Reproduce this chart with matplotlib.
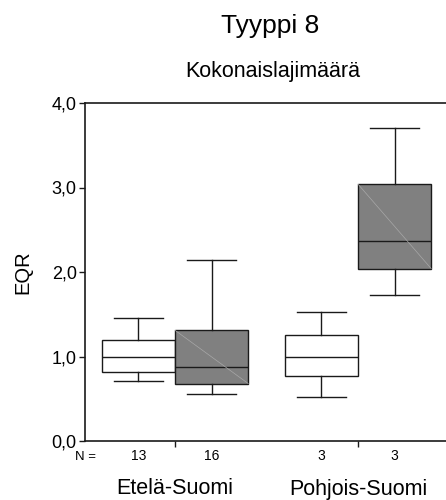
import matplotlib
matplotlib.use("Agg")
import matplotlib.pyplot as plt
import matplotlib.transforms as mtransforms

plt.rcParams['font.family'] = ['Liberation Sans', 'DejaVu Sans']

# box statistics (EQR)
groups = ['Etelä-Suomi', 'Pohjois-Suomi']
counts = [13, 16, 3, 3]
whislo = [0.71, 0.56, 0.52, 1.73]
q1 = [0.82, 0.68, 0.77, 2.04]
med = [1.00, 0.88, 1.00, 2.37]
q3 = [1.19, 1.31, 1.25, 3.04]
whishi = [1.45, 2.14, 1.53, 3.70]
fills = ['white', '#808080', 'white', '#808080']
yticks = [0.0, 1.0, 2.0, 3.0, 4.0]

group_pos = [1, 2]
width = 0.4
positions = [1 - width / 2, 1 + width / 2, 2 - width / 2, 2 + width / 2]

fig = plt.figure(figsize=(4.46, 5.0), dpi=100)
ax = fig.add_axes([0.1906, 0.118, 0.8094, 0.676])

stats = []
for i in range(4):
    stats.append(dict(whislo=whislo[i], q1=q1[i], med=med[i], q3=q3[i],
                      whishi=whishi[i], fliers=[]))

bp = ax.bxp(stats, positions=positions, widths=width, capwidths=0.27,
            patch_artist=True, showfliers=False,
            boxprops=dict(edgecolor='#1a1a1a', linewidth=1.0),
            medianprops=dict(color='#1a1a1a', linewidth=1.0),
            whiskerprops=dict(color='#1a1a1a', linewidth=1.0),
            capprops=dict(color='#1a1a1a', linewidth=1.0))
for patch, c in zip(bp['boxes'], fills):
    patch.set_facecolor(c)

# faint diagonal in the shaded boxes
for i in range(4):
    if fills[i] != 'white':
        ax.plot([positions[i] - width / 2, positions[i] + width / 2], [q3[i], q1[i]],
                color='#a8a8a8', linewidth=0.5, zorder=3)

ax.set_xlim(0.508, 2.481)
ax.set_ylim(0, 4)
ax.set_yticks(yticks)
ax.set_yticklabels([('%.1f' % v).replace('.', ',') for v in yticks], fontsize=13)
ax.set_xticks(group_pos)
ax.set_xticklabels([])
ax.tick_params(axis='both', direction='out', length=4, width=1, color='#1a1a1a', pad=2)
ax.spines['right'].set_visible(False)
for s in ['left', 'bottom', 'top']:
    ax.spines[s].set_linewidth(1.2)
    ax.spines[s].set_color('#1a1a1a')

ax.set_ylabel('EQR', fontsize=14.5)
ax.yaxis.set_label_coords(-0.146, 0.5)

trans = mtransforms.blended_transform_factory(ax.transData, fig.transFigure)
fig.text(0.168, 0.079, 'N =', fontsize=9.5, ha='left', va='baseline')
for p, n in zip(positions, counts):
    ax.text(p, 0.079, str(n), transform=trans, fontsize=10, ha='center', va='baseline')
for g, name in zip(group_pos, groups):
    ax.text(g, 0.011, name, transform=trans, fontsize=15.5, ha='center', va='baseline')

fig.text(0.605, 0.934, 'Tyyppi 8', fontsize=19, ha='center', va='baseline')
fig.text(0.611, 0.845, 'Kokonaislajimäärä', fontsize=15.5, ha='center', va='baseline')

fig.savefig('out.png', dpi=100)
